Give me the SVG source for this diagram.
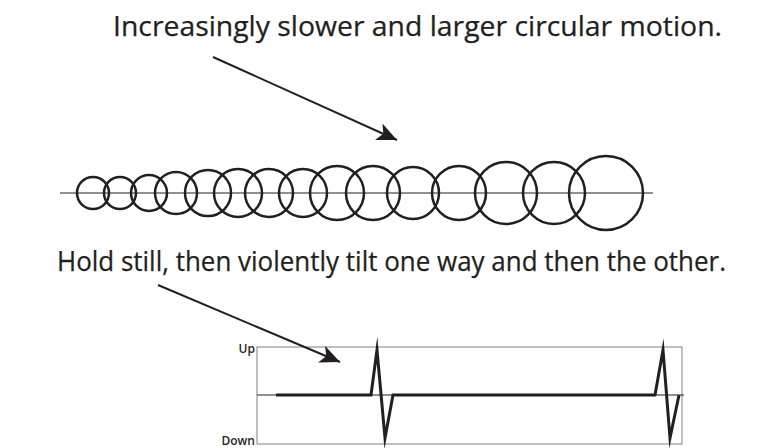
<svg xmlns="http://www.w3.org/2000/svg" width="784" height="448" viewBox="0 0 784 448">
<style>
.title{font-family:"Open Sans","Liberation Sans",sans-serif;font-size:28px;fill:#231f20;stroke:#231f20;stroke-width:0.25}
.lbl{font-family:"Open Sans","Liberation Sans",sans-serif;font-size:12px;font-weight:600;fill:#231f20}
.circ{fill:none;stroke:#231f20;stroke-width:2.5}
.axis{stroke:#231f20;stroke-width:1}
.arrow{stroke:#231f20;stroke-width:2;fill:none;marker-end:url(#ah)}
.sig{fill:none;stroke:#231f20;stroke-width:3;stroke-linejoin:miter;stroke-miterlimit:10}
</style>
<defs>
<marker id="ah" markerUnits="userSpaceOnUse" markerWidth="22" markerHeight="18" viewBox="0 0 22 18" refX="20" refY="9" orient="auto">
<path d="M0,0 L20,9 L0,18 L5,9 Z" fill="#231f20"/>
</marker>
</defs>
<rect width="784" height="448" fill="#fff"/>
<g id="title1"><text class="title" x="113" y="36" textLength="609" lengthAdjust="spacingAndGlyphs">Increasingly slower and larger circular motion.</text></g>
<g id="circles">
<line class="axis" x1="60" y1="193" x2="653" y2="193"/>
<circle class="circ" cx="93" cy="193" r="16"/>
<circle class="circ" cx="120" cy="193" r="16"/>
<circle class="circ" cx="149" cy="193" r="18"/>
<circle class="circ" cx="176" cy="193" r="21"/>
<circle class="circ" cx="208" cy="193" r="23"/>
<circle class="circ" cx="238" cy="193" r="24"/>
<circle class="circ" cx="269" cy="193" r="24"/>
<circle class="circ" cx="303" cy="193" r="24"/>
<circle class="circ" cx="337" cy="193" r="27"/>
<circle class="circ" cx="373" cy="193" r="27"/>
<circle class="circ" cx="413" cy="193" r="26"/>
<circle class="circ" cx="459" cy="193" r="27"/>
<circle class="circ" cx="506" cy="193" r="31"/>
<circle class="circ" cx="554" cy="193" r="31"/>
<circle class="circ" cx="606" cy="193" r="37"/>
</g>
<g id="title2"><text class="title" x="57" y="271" textLength="669" lengthAdjust="spacingAndGlyphs">Hold still, then violently tilt one way and then the other.</text></g>
<g id="chart">
<rect x="257" y="347" width="425" height="97" fill="none" stroke="#808080" stroke-width="1"/>
<line class="axis" x1="257" y1="395" x2="684" y2="395"/>
<text class="lbl" x="255" y="353" text-anchor="end">Up</text>
<text class="lbl" x="255" y="445" text-anchor="end">Down</text>
<polyline class="sig" points="276,395 371,395 377,350 385,438 393,395 655,395 663,350 670,438 679,395"/>
</g>
<g id="connectors">
<line class="arrow" x1="213" y1="57" x2="397" y2="140"/>
<line class="arrow" x1="158" y1="285" x2="340" y2="362"/>
</g>
</svg>
